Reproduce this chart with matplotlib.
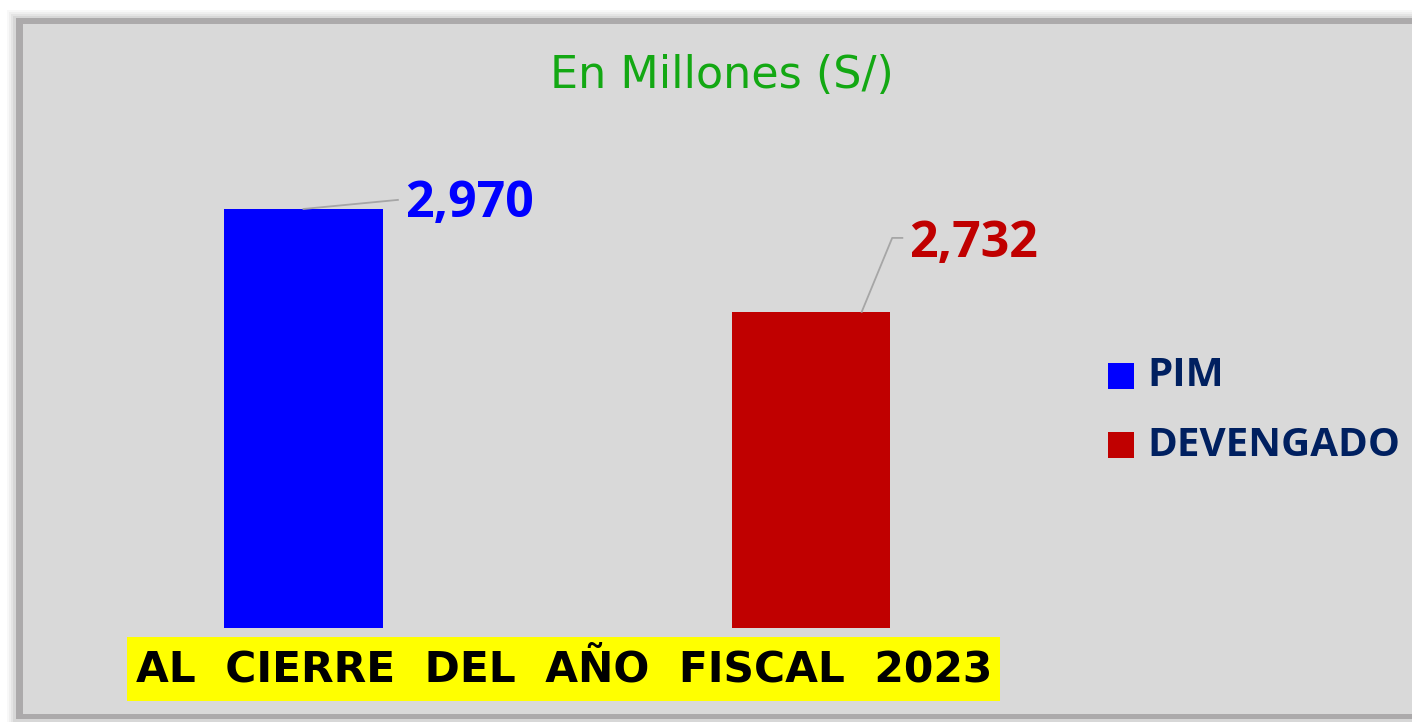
import matplotlib
matplotlib.use("Agg")
import matplotlib.pyplot as plt
from matplotlib.patches import Rectangle

categories = ["PIM", "DEVENGADO"]
values = [2970, 2732]
bar_colors = ["#0000ff", "#c00000"]
label_texts = ["2,970", "2,732"]
title = "En Millones (S/)"
footer = "AL  CIERRE  DEL  AÑO  FISCAL  2023"

W, H = 1412, 722
fig = plt.figure(figsize=(W / 100, H / 100), dpi=100)
fig.patch.set_facecolor("white")

def fx(px):
    return px / W

def fy(py):
    return 1 - py / H

# soft shadow
for i, a in enumerate([0.05, 0.07, 0.09, 0.12]):
    d = 8 - 2 * i
    fig.patches.append(Rectangle((fx(15 - d), fy(720 + d)), fx(1420 - 15 + 2 * d), (720 - 18 + 2 * d) / H,
                                 transform=fig.transFigure, facecolor="#808080", alpha=a,
                                 edgecolor="none", zorder=0))
# panel border and fill
fig.patches.append(Rectangle((fx(16), fy(719)), fx(1420 - 16), (719 - 18) / H,
                             transform=fig.transFigure, facecolor="#acaaab",
                             edgecolor="none", zorder=1))
fig.patches.append(Rectangle((fx(23), fy(714)), fx(1420 - 23), (714 - 24) / H,
                             transform=fig.transFigure, facecolor="#d9d9d9",
                             edgecolor="none", zorder=2))

# axes: category 0 -> x=303.5px, category 1 -> x=811px ; y 2000 -> 628px, 3200 -> ~110px
left_px, right_px = 49.75, 1064.75
bottom_px, top_px = 628, 109.6
ax = fig.add_axes([fx(left_px), fy(bottom_px), fx(right_px - left_px), (bottom_px - top_px) / H])
ax.set_zorder(3)
ax.patch.set_visible(False)
x = list(range(len(categories)))
bars = ax.bar(x, values, width=0.313, color=bar_colors, zorder=3)
ax.set_xlim(-0.5, 1.5)
ax.set_ylim(2000, 3200)
ax.axis("off")

# data labels with leader lines
lab_pos = [(0.2, 2982), (1.193, 2889)]
leader = [
    [(0.0, values[0]), (0.186, 2991)],
    [(1.1, values[1]), (1.16, 2903), (1.18, 2903)],
]
for i in range(len(values)):
    ax.text(lab_pos[i][0], lab_pos[i][1], label_texts[i], color=bar_colors[i],
            fontsize=36, fontweight="bold", family="Open Sans", ha="left", va="center",
            zorder=5)
    xs = [p[0] for p in leader[i]]
    ys = [p[1] for p in leader[i]]
    ax.plot(xs, ys, color="#a6a6a6", lw=1.3, zorder=4, clip_on=False)

# title
fig.text(fx(722), fy(75), title, color="#13a813", fontsize=32, family="DejaVu Sans",
         ha="center", va="center", zorder=5)

# footer
fig.patches.append(Rectangle((fx(127), fy(701)), fx(1000 - 127), (701 - 637) / H,
                             transform=fig.transFigure, facecolor="#ffff00",
                             edgecolor="none", zorder=4))
fig.text(fx(564), fy(670), footer, color="black", fontsize=30.5, fontweight="heavy",
         family="DejaVu Sans", ha="center", va="center", zorder=5)

# legend
leg_y = [376, 445]
for i, cat in enumerate(categories):
    fig.patches.append(Rectangle((fx(1108), fy(leg_y[i] + 13)), fx(26), 26 / H,
                                 transform=fig.transFigure, facecolor=bar_colors[i],
                                 edgecolor="none", zorder=5))
    fig.text(fx(1147), fy(leg_y[i]), cat, color="#002060", fontsize=29, fontweight="bold",
             family="Open Sans", ha="left", va="center", zorder=5)

fig.savefig("out.png", dpi=100)
